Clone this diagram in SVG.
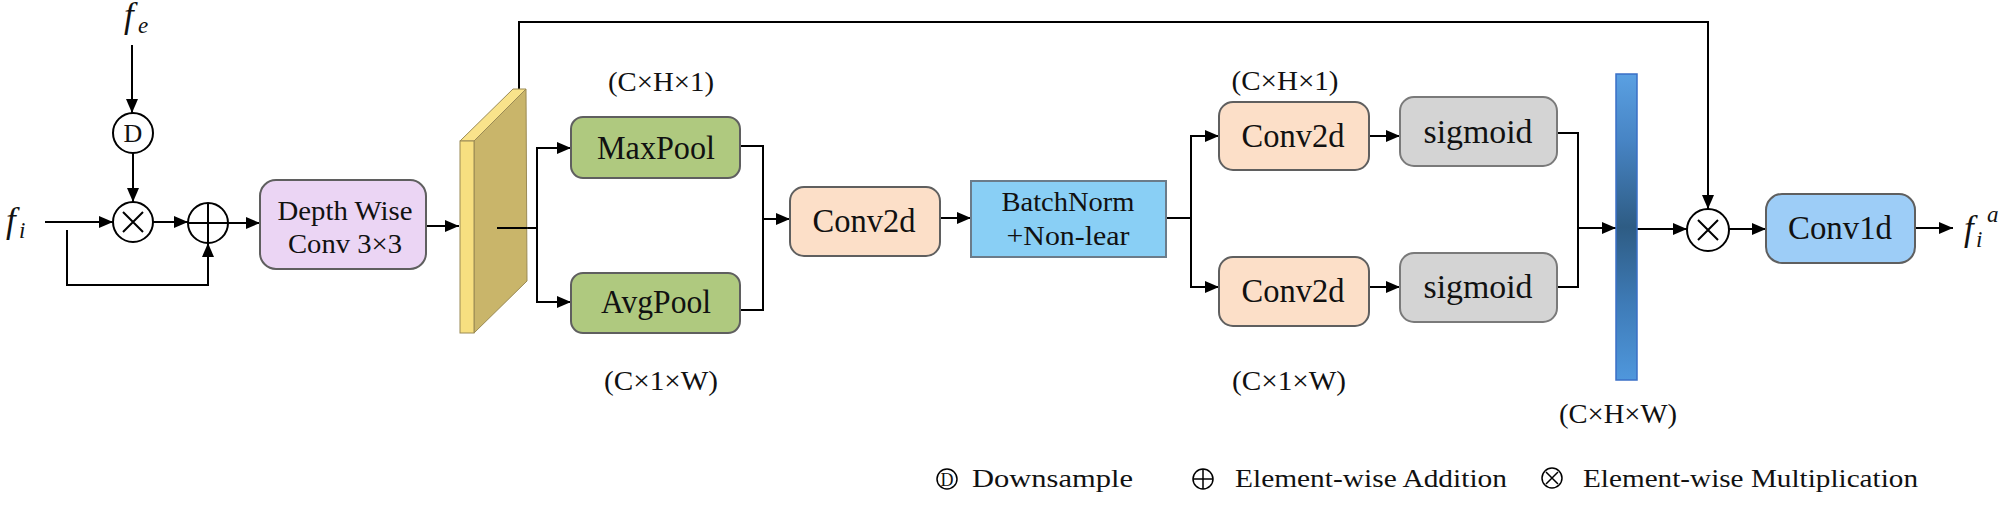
<svg xmlns="http://www.w3.org/2000/svg" width="2005" height="508" viewBox="0 0 2005 508">
<defs>
<marker id="ah" markerWidth="14" markerHeight="12" refX="14" refY="6" orient="auto" markerUnits="userSpaceOnUse"><path d="M0,0 L14,6 L0,12 z" fill="#000"/></marker>
<linearGradient id="barg" x1="0" y1="0" x2="0" y2="1">
<stop offset="0" stop-color="#5aa0e2"/>
<stop offset="0.22" stop-color="#4784c4"/>
<stop offset="0.5" stop-color="#2e5c84"/>
<stop offset="0.75" stop-color="#3e7bb7"/>
<stop offset="1" stop-color="#4f97dc"/>
</linearGradient>
<style>
.c{fill:none;stroke:#000;stroke-width:2}
.a{fill:none;stroke:#000;stroke-width:2;marker-end:url(#ah)}
.box{stroke:#5f5f5f;stroke-width:2}
.t{font-family:"Liberation Serif","DejaVu Serif",serif;fill:#111;text-anchor:middle}
.lg{font-family:"Liberation Serif","DejaVu Serif",serif;fill:#111;font-size:26px}
.m{font-family:"Liberation Serif","DejaVu Serif",serif;font-style:italic;fill:#111}
.op{fill:#fff;stroke:#000;stroke-width:2}
</style>
</defs>
<rect width="2005" height="508" fill="#fff"/>

<g id="connectors">
<line class="a" x1="132" y1="45" x2="132" y2="113"/>
<line class="a" x1="133" y1="153" x2="133" y2="202"/>
<line class="a" x1="45" y1="222" x2="113" y2="222"/>
<line class="a" x1="153" y1="222" x2="188" y2="222"/>
<polyline class="a" points="67,230 67,285 208,285 208,243"/>
<line class="a" x1="228" y1="223" x2="260" y2="223"/>
<line class="a" x1="426" y1="226" x2="459" y2="226"/>
<polyline class="c" points="497,228 537,228"/>
<polyline class="a" points="537,228 537,148 571,148"/>
<polyline class="a" points="537,228 537,302 571,302"/>
<polyline class="c" points="740,146 763,146 763,310 740,310"/>
<line class="a" x1="763" y1="219" x2="790" y2="219"/>
<line class="a" x1="940" y1="218" x2="971" y2="218"/>
<line class="c" x1="1166" y1="218" x2="1191" y2="218"/>
<polyline class="a" points="1191,218 1191,136 1219,136"/>
<polyline class="a" points="1191,218 1191,287 1219,287"/>
<line class="a" x1="1369" y1="136" x2="1400" y2="136"/>
<line class="a" x1="1369" y1="287" x2="1400" y2="287"/>
<polyline class="c" points="1557,133 1578,133 1578,287 1557,287"/>
<line class="a" x1="1578" y1="228" x2="1616" y2="228"/>
<line class="a" x1="1637" y1="229" x2="1687" y2="229"/>
<polyline class="a" points="519,89 519,22 1708,22 1708,209"/>
<line class="a" x1="1729" y1="229" x2="1766" y2="229"/>
<line class="a" x1="1916" y1="228" x2="1953" y2="228"/>
</g>

<g id="fe">
<text class="m" x="124" y="27" font-size="35">f</text>
<text class="m" x="138" y="33" font-size="23">e</text>
</g>
<g id="fi">
<text class="m" x="6" y="232" font-size="35">f</text>
<text class="m" x="19" y="238" font-size="23">i</text>
</g>

<g id="downsample">
<circle class="op" cx="133" cy="133" r="20"/>
<text class="t" x="133" y="142" font-size="26">D</text>
</g>
<g id="mul1">
<circle class="op" cx="133" cy="222" r="20"/>
<path class="c" d="M123,212 L143,232 M143,212 L123,232"/>
</g>
<g id="add1">
<circle class="op" cx="208" cy="223" r="20"/>
<path class="c" d="M189,223 L227,223 M208,204 L208,242"/>
</g>

<g id="depthwise">
<rect class="box" x="260" y="180" width="166" height="89" rx="16" fill="#ebd5f4"/>
<text class="t" x="345" y="220" font-size="27" textLength="135" lengthAdjust="spacingAndGlyphs">Depth Wise</text>
<text class="t" x="345" y="253" font-size="27" textLength="114" lengthAdjust="spacingAndGlyphs">Conv 3×3</text>
</g>

<g id="feature-slab">
<polygon points="474,141 526,89 527,281 474,333" fill="#c9b56a" stroke="#9a8a55" stroke-width="1"/>
<polygon points="460,141 513,89 526,89 474,141" fill="#f9e38b" stroke="#9a8a55" stroke-width="1"/>
<rect x="460" y="141" width="14" height="192" fill="#f7df80" stroke="#9a8a55" stroke-width="1"/>
<line class="c" x1="497" y1="228" x2="527" y2="228"/>
</g>

<g id="maxpool">
<rect class="box" x="571" y="117" width="169" height="61" rx="12" fill="#afc97f"/>
<text class="t" x="656" y="159" font-size="34" textLength="118" lengthAdjust="spacingAndGlyphs">MaxPool</text>
</g>
<g id="avgpool">
<rect class="box" x="571" y="273" width="169" height="60" rx="12" fill="#afc97f"/>
<text class="t" x="656" y="313" font-size="34" textLength="110" lengthAdjust="spacingAndGlyphs">AvgPool</text>
</g>
<text class="t" x="661" y="91" font-size="28" textLength="106" lengthAdjust="spacingAndGlyphs">(C×H×1)</text>
<text class="t" x="661" y="390" font-size="28" textLength="114" lengthAdjust="spacingAndGlyphs">(C×1×W)</text>

<g id="conv2d-1">
<rect class="box" x="790" y="187" width="150" height="69" rx="14" fill="#fcdfc8"/>
<text class="t" x="864" y="232" font-size="34" textLength="103" lengthAdjust="spacingAndGlyphs">Conv2d</text>
</g>

<g id="batchnorm">
<rect x="971" y="181" width="195" height="76" fill="#89cff5" stroke="#6b7c8a" stroke-width="2"/>
<text class="t" x="1068" y="211" font-size="28" textLength="133" lengthAdjust="spacingAndGlyphs">BatchNorm</text>
<text class="t" x="1068" y="245" font-size="28" textLength="123" lengthAdjust="spacingAndGlyphs">+Non-lear</text>
</g>

<g id="conv2d-h">
<rect class="box" x="1219" y="102" width="150" height="68" rx="14" fill="#fcdfc8"/>
<text class="t" x="1293" y="147" font-size="34" textLength="103" lengthAdjust="spacingAndGlyphs">Conv2d</text>
</g>
<g id="conv2d-w">
<rect class="box" x="1219" y="257" width="150" height="69" rx="14" fill="#fcdfc8"/>
<text class="t" x="1293" y="302" font-size="34" textLength="103" lengthAdjust="spacingAndGlyphs">Conv2d</text>
</g>
<text class="t" x="1285" y="90" font-size="28" textLength="107" lengthAdjust="spacingAndGlyphs">(C×H×1)</text>
<text class="t" x="1289" y="390" font-size="28" textLength="114" lengthAdjust="spacingAndGlyphs">(C×1×W)</text>

<g id="sigmoid-h">
<rect x="1400" y="97" width="157" height="69" rx="14" fill="#d4d4d4" stroke="#7a7a7a" stroke-width="2"/>
<text class="t" x="1478" y="143" font-size="34" textLength="109" lengthAdjust="spacingAndGlyphs">sigmoid</text>
</g>
<g id="sigmoid-w">
<rect x="1400" y="253" width="157" height="69" rx="14" fill="#d4d4d4" stroke="#7a7a7a" stroke-width="2"/>
<text class="t" x="1478" y="298" font-size="34" textLength="109" lengthAdjust="spacingAndGlyphs">sigmoid</text>
</g>

<g id="attention-bar">
<rect x="1616" y="74" width="21" height="306" fill="url(#barg)" stroke="#3a6fc6" stroke-width="1.5"/>
<text class="t" x="1618" y="423" font-size="28" textLength="118" lengthAdjust="spacingAndGlyphs">(C×H×W)</text>
</g>

<g id="mul2">
<circle class="op" cx="1708" cy="230" r="21"/>
<path class="c" d="M1698,220 L1718,240 M1718,220 L1698,240"/>
</g>

<g id="conv1d">
<rect class="box" x="1766" y="194" width="149" height="69" rx="16" fill="#9dcdf7"/>
<text class="t" x="1840" y="239" font-size="34" textLength="104" lengthAdjust="spacingAndGlyphs">Conv1d</text>
</g>

<g id="fia">
<text class="m" x="1964" y="240" font-size="35">f</text>
<text class="m" x="1976" y="247" font-size="23">i</text>
<text class="m" x="1987" y="222" font-size="23">a</text>
</g>

<g id="legend">
<circle cx="947" cy="479" r="10" fill="#fff" stroke="#000" stroke-width="1.5"/>
<text class="t" x="947" y="486" font-size="18">D</text>
<text class="lg" x="972" y="487" textLength="161" lengthAdjust="spacingAndGlyphs">Downsample</text>
<circle cx="1203" cy="479" r="10" fill="#fff" stroke="#000" stroke-width="1.5"/>
<path d="M1193,479 L1213,479 M1203,469 L1203,489" stroke="#000" stroke-width="1.5"/>
<text class="lg" x="1235" y="487" textLength="272" lengthAdjust="spacingAndGlyphs">Element-wise Addition</text>
<circle cx="1552" cy="478" r="10" fill="#fff" stroke="#000" stroke-width="1.5"/>
<path d="M1546,472 L1558,484 M1558,472 L1546,484" stroke="#000" stroke-width="1.5"/>
<text class="lg" x="1583" y="487" textLength="335" lengthAdjust="spacingAndGlyphs">Element-wise Multiplication</text>
</g>
</svg>
